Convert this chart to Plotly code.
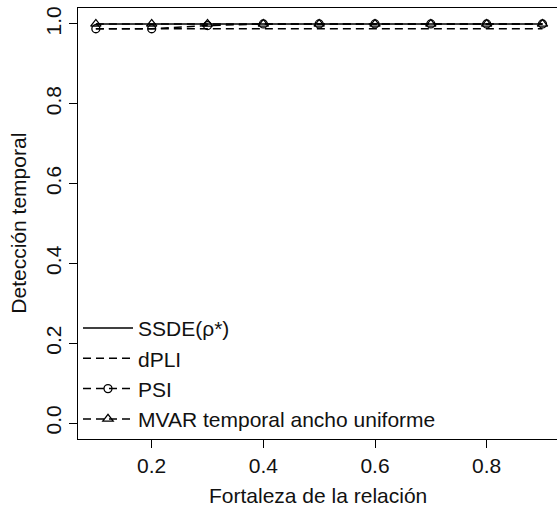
import plotly.graph_objects as go

# Relationship strength (x) and temporal detection rate per method
fortaleza = [0.1, 0.2, 0.3, 0.4, 0.5, 0.6, 0.7, 0.8, 0.9]
ssde = [1.0, 1.0, 1.0, 1.0, 1.0, 1.0, 1.0, 1.0, 1.0]
dpli = [0.988, 0.988, 0.988, 0.988, 0.988, 0.988, 0.988, 0.988, 0.988]
psi = [0.988, 0.988, 0.996, 1.0, 1.0, 1.0, 1.0, 1.0, 1.0]
mvar = [1.0, 1.0, 1.0, 1.0, 1.0, 1.0, 1.0, 1.0, 1.0]

x_ticks = [0.2, 0.4, 0.6, 0.8]
y_ticks = [0.0, 0.2, 0.4, 0.6, 0.8, 1.0]

FONT = "Liberation Sans, Arial, sans-serif"
FSIZE = 21
DASH = "8px,5px"

fig = go.Figure()
fig.add_trace(go.Scatter(x=fortaleza, y=ssde, mode="lines", name="SSDE(\u03c1*)",
                         line=dict(color="black", width=1.5)))
fig.add_trace(go.Scatter(x=fortaleza, y=dpli, mode="lines", name="dPLI",
                         line=dict(color="black", width=1.5, dash=DASH)))
fig.add_trace(go.Scatter(x=fortaleza, y=psi, mode="lines+markers", name="PSI",
                         line=dict(color="black", width=1.5, dash=DASH),
                         marker=dict(symbol="circle-open", size=8, color="black",
                                     line=dict(width=1.3, color="black"))))
fig.add_trace(go.Scatter(x=fortaleza, y=mvar, mode="lines+markers",
                         name="MVAR temporal ancho uniforme",
                         line=dict(color="black", width=1.5, dash=DASH),
                         marker=dict(symbol="triangle-up-open", size=9, color="black",
                                     line=dict(width=1.3, color="black"))))

axis_common = dict(showgrid=False, zeroline=False, showline=True, linecolor="black",
                   linewidth=1, ticks="outside", ticklen=8, tickcolor="black",
                   tickwidth=1, tickfont=dict(family=FONT, size=FSIZE, color="#111"))

fig.update_layout(
    width=557, height=513,
    margin=dict(l=78, r=0, t=8, b=74),
    plot_bgcolor="white", paper_bgcolor="white",
    font=dict(family=FONT, size=FSIZE, color="#111"),
    xaxis=dict(range=[0.068, 0.926], tickvals=x_ticks,
               ticktext=[f"{v:.1f}" for v in x_ticks], mirror=True, **axis_common),
    yaxis=dict(range=[-0.04, 1.04], tickvals=y_ticks,
               ticktext=[f"{v:.1f}" for v in y_ticks], tickangle=-90, **axis_common),
    showlegend=True,
    legend=dict(x=0.0, y=-0.002, xanchor="left", yanchor="bottom",
                bgcolor="rgba(0,0,0,0)", borderwidth=0,
                font=dict(family=FONT, size=FSIZE, color="#111"),
                tracegroupgap=0, itemwidth=50),
    annotations=[
        dict(text="Fortaleza de la relaci\u00f3n", xref="paper", yref="paper",
             x=0.5, y=-0.132, xanchor="center", yanchor="middle", showarrow=False,
             font=dict(family=FONT, size=FSIZE, color="#111")),
        dict(text="Detecci\u00f3n temporal", xref="paper", yref="paper",
             x=-0.125, y=0.5, xanchor="center", yanchor="middle", textangle=-90,
             showarrow=False, font=dict(family=FONT, size=FSIZE, color="#111")),
    ],
)

fig.write_html("out.html")
